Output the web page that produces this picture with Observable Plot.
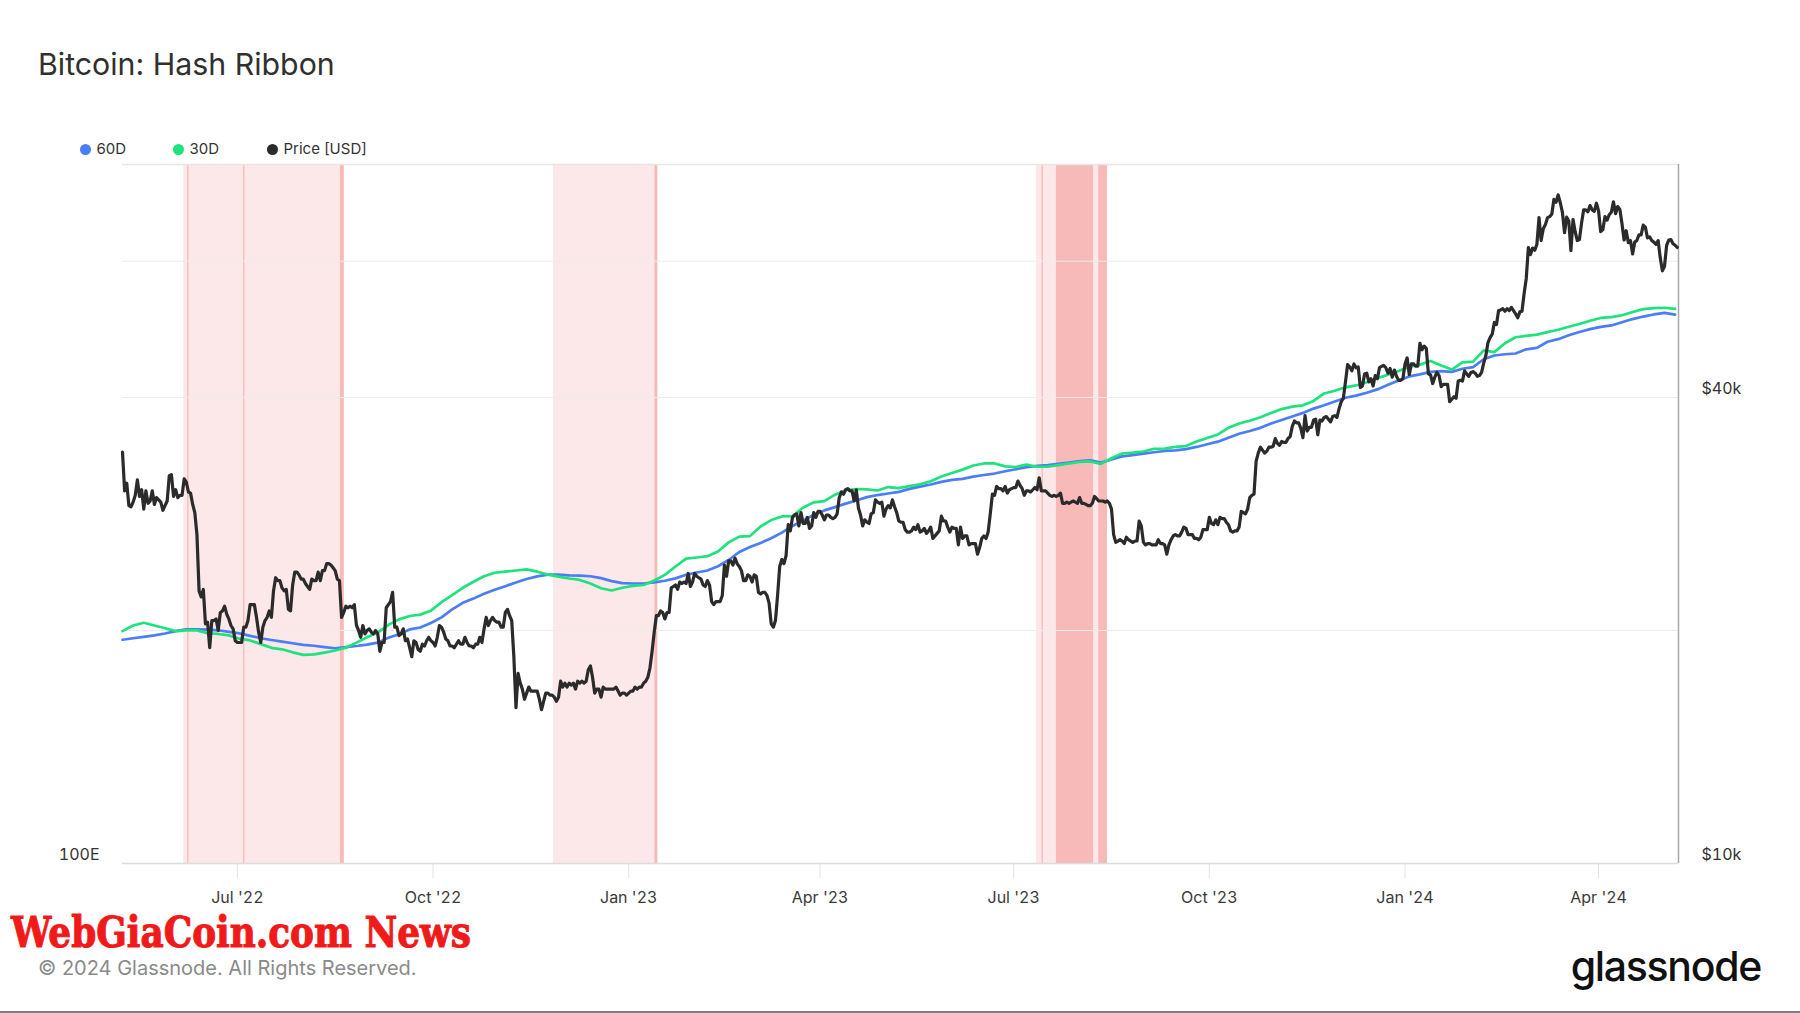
<!DOCTYPE html>
<html>
<head>
<meta charset="utf-8">
<script src="https://cdn.jsdelivr.net/npm/d3@7"></script>
<script src="https://cdn.jsdelivr.net/npm/@observablehq/plot@0.6"></script>
<style>
  body { margin: 0; background: #fff; }
  #page { position: relative; width: 1800px; height: 1013px; overflow: hidden; background: #fff; font-family: Inter, "Noto Sans", sans-serif; }
  #title { position: absolute; left: 38px; top: 46px; font-size: 30.3px; line-height: 36px; color: #303030; white-space: nowrap; }
  .leg { position: absolute; top: 140px; height: 18px; line-height: 18px; font-size: 15px; color: #333; white-space: nowrap; }
  .leg i { display: inline-block; width: 11px; height: 11px; border-radius: 50%; margin-right: 6px; vertical-align: -1px; }
  #chart { position: absolute; left: 0; top: 140px; }
  #copy { position: absolute; left: 38px; top: 954px; font-size: 20px; line-height: 28px; color: #8a8a8a; white-space: nowrap; }
  #logo { position: absolute; right: 39px; top: 941px; font-size: 41px; line-height: 50px; font-weight: 500; letter-spacing: -1.3px; color: #111; white-space: nowrap; }
  #wm { position: absolute; left: 0; top: 890px; overflow: visible; }
  #rule { position: absolute; left: 0; top: 1011px; width: 1800px; height: 2px; background: #808080; }
</style>
</head>
<body>
<div id="page">
  <div id="title">Bitcoin: Hash Ribbon</div>
  <div class="leg" style="left:79.5px"><i style="background:#4a7df6"></i>60D</div>
  <div class="leg" style="left:172.5px"><i style="background:#1ee37c"></i>30D</div>
  <div class="leg" style="left:266.5px"><i style="background:#2b2b2b"></i>Price [USD]</div>
  <div id="chart"></div>
  <svg id="wm" width="760" height="72"><text x="11" y="57" textLength="460" lengthAdjust="spacingAndGlyphs" font-family="DejaVu Serif" font-weight="bold" font-size="43" fill="#f01a1a" stroke="#f01a1a" stroke-width="1.1">WebGiaCoin.com News</text></svg>
  <div id="copy">© 2024 Glassnode. All Rights Reserved.</div>
  <div id="logo">glassnode</div>
  <div id="rule"></div>
</div>
<script>
// ---------- data ----------
const startDate = "2022-05-08";           // first daily observation
const xDomain = ["2022-05-08", "2024-05-08T14:00"];
const xTickDates = ["2022-07-01", "2022-10-01", "2023-01-01", "2023-04-01", "2023-07-01", "2023-10-01", "2024-01-01", "2024-04-01"];

// BTC price, daily, thousands of USD
const priceK = [
  // May 2022 (8-31)
  34.0,30.3,31.0,29.0,28.9,29.3,29.9,31.3,29.8,30.4,28.7,30.3,29.2,29.4,30.3,29.1,29.7,29.5,29.3,28.6,29.0,29.4,31.7,31.8,
  // Jun 2022
  29.8,30.4,29.7,29.9,29.9,31.4,31.1,30.2,30.1,29.1,28.4,26.6,22.5,22.1,22.6,20.4,20.5,19.0,20.6,20.6,20.7,20.0,21.1,21.2,21.5,21.0,20.7,20.3,20.1,19.4,
  // Jul 2022
  19.3,19.3,19.3,20.2,20.2,20.6,21.6,21.6,21.6,20.8,19.9,19.3,20.2,20.6,20.8,21.2,20.8,22.5,23.4,23.2,23.2,22.7,22.5,22.6,21.3,21.2,22.9,23.8,23.8,23.6,23.3,
  // Aug 2022
  23.3,23.0,22.8,22.6,23.3,23.2,23.2,23.8,23.2,23.9,23.9,24.4,24.4,24.3,24.1,23.9,23.3,23.2,20.8,21.1,21.5,21.4,21.5,21.4,21.6,20.3,20.0,19.6,20.3,19.8,20.0,
  // Sep 2022
  20.1,19.9,19.8,20.0,19.8,18.8,19.3,19.3,21.4,21.6,21.8,22.4,20.2,20.2,19.7,19.8,20.1,19.4,19.5,19.0,18.5,19.4,19.3,18.9,18.8,19.2,19.1,19.4,19.6,19.4,
  // Oct 2022
  19.3,19.1,19.6,20.3,20.2,19.9,19.5,19.4,19.1,19.1,19.0,19.2,19.4,19.2,19.2,19.6,19.3,19.1,19.1,19.0,19.2,19.2,19.6,19.3,20.1,20.8,20.3,20.6,20.8,20.6,20.5,
  // Nov 2022
  20.5,20.2,20.2,21.1,21.3,20.9,20.6,18.5,15.9,17.6,17.1,16.8,16.3,16.6,16.9,16.7,16.7,16.7,16.7,16.3,15.8,16.2,16.6,16.6,16.5,16.5,16.4,16.2,16.4,17.2,
  // Dec 2022
  16.9,17.1,16.9,17.1,17.0,17.1,16.8,17.2,17.1,17.2,17.1,17.2,17.8,18.0,17.4,16.6,16.8,16.8,16.4,16.9,16.8,16.8,16.8,16.8,16.8,16.9,16.7,16.5,16.6,16.6,16.5,
  // Jan 2023
  16.6,16.7,16.7,16.9,16.8,16.9,16.9,17.1,17.2,17.4,17.9,18.8,19.9,20.9,20.9,21.2,21.1,20.7,21.1,21.1,22.7,22.8,22.9,22.6,23.1,23.0,23.1,23.0,23.7,22.8,23.1,
  // Feb 2023
  23.7,23.5,23.4,23.3,22.9,22.8,23.2,22.9,21.8,21.6,21.8,21.8,21.8,22.2,24.3,23.5,24.6,24.6,24.3,24.8,24.4,24.2,23.9,23.2,23.2,23.6,23.5,23.1,
  // Mar 2023
  23.6,23.5,22.4,22.3,22.4,22.4,22.2,21.7,20.4,20.2,20.6,22.2,24.2,24.7,24.4,25.0,27.4,26.9,28.0,28.2,28.3,27.3,28.4,27.5,27.5,28.0,27.1,27.3,28.4,28.0,28.5,
  // Apr 2023
  28.5,28.2,27.8,28.2,28.2,28.0,27.9,28.0,28.3,29.7,30.2,30.0,30.4,30.5,30.3,30.3,29.4,30.4,28.8,28.2,27.3,27.8,27.6,27.5,28.3,28.4,29.5,29.3,29.2,29.3,
  // May 2023
  28.1,28.7,29.0,28.8,29.5,28.9,28.4,27.7,27.6,27.6,27.0,26.8,26.8,26.9,27.2,27.0,27.4,26.8,26.9,27.1,26.7,26.9,27.2,26.3,26.5,26.7,26.9,28.1,27.7,27.7,27.2,
  // Jun 2023
  26.8,27.2,27.1,27.1,25.8,27.2,26.3,26.5,26.5,25.8,25.9,25.9,25.9,25.1,25.6,26.3,26.5,26.3,26.8,28.3,30.0,29.9,30.7,30.5,30.5,30.3,30.7,30.1,30.4,30.5,
  // Jul 2023
  30.6,30.6,31.2,30.8,30.5,29.9,30.3,30.3,30.2,30.4,30.6,30.4,31.5,30.3,30.3,30.3,30.1,29.9,29.8,29.9,29.8,29.9,30.1,29.2,29.2,29.3,29.2,29.3,29.4,29.3,29.2,
  // Aug 2023
  29.7,29.2,29.2,29.1,29.0,29.0,29.2,29.8,29.6,29.4,29.4,29.4,29.3,29.4,29.2,28.7,26.6,26.0,26.1,26.2,26.1,25.9,26.4,26.2,26.1,26.0,26.1,26.1,27.7,27.3,26.0,
  // Sep 2023
  25.8,25.9,25.9,25.8,25.8,25.8,26.2,25.9,25.9,25.8,25.1,25.8,26.2,26.5,26.6,26.5,26.5,26.8,27.2,27.1,26.6,26.6,26.6,26.3,26.3,26.2,26.4,27.0,27.0,27.0,
  // Oct 2023
  28.0,27.5,27.4,27.8,27.4,28.0,27.9,27.9,27.6,27.4,26.9,26.8,26.9,26.9,27.2,28.5,28.4,28.3,28.7,29.7,29.9,30.0,33.1,33.9,34.5,34.2,33.9,34.1,34.5,34.5,34.6,
  // Nov 2023
  35.4,34.9,34.7,35.1,35.0,35.0,35.4,35.6,36.7,37.3,37.1,37.1,36.5,35.5,37.9,36.2,36.6,36.6,37.4,37.5,35.8,37.4,37.3,37.7,37.8,37.5,37.2,37.8,37.9,37.7,
  // Dec 2023
  38.7,39.5,39.9,41.9,44.1,43.8,43.3,44.2,43.7,43.8,41.2,41.4,42.9,43.0,41.9,42.3,41.4,42.7,42.3,43.7,43.9,44.0,43.7,43.0,43.6,42.5,43.4,42.6,42.1,42.1,42.3,
  // Jan 2024
  44.2,45.0,42.8,44.2,44.2,43.9,43.9,47.0,46.1,46.6,46.3,42.9,42.8,41.7,42.5,43.1,42.7,41.3,41.6,41.6,41.6,39.5,39.8,40.1,39.9,42.0,42.1,42.0,43.3,42.9,42.6,
  // Feb 2024
  43.1,43.2,43.0,42.6,42.7,43.1,44.3,45.3,47.1,47.8,48.3,50.0,49.7,51.8,51.9,52.1,51.7,52.1,51.8,52.3,51.8,51.3,50.7,51.6,51.7,54.5,57.0,62.5,61.2,
  // Mar 2024
  62.4,62.0,63.1,68.3,63.8,66.1,66.9,68.3,68.5,69.0,72.1,71.5,73.1,71.4,69.4,65.3,68.4,67.6,61.9,67.9,65.5,63.8,64.0,67.2,69.9,69.9,69.5,70.8,69.9,69.6,71.3,
  // Apr 2024
  69.7,65.5,65.9,68.5,67.8,68.9,69.4,71.6,69.1,70.6,70.0,67.1,63.9,65.7,63.4,63.8,61.3,63.5,63.8,64.9,64.9,66.8,66.4,64.3,64.5,63.8,63.5,63.1,63.8,60.6,
  // May 2024 (1-8)
  58.3,59.1,62.9,63.9,64.0,63.2,62.9,62.5
];

// Hash rate moving averages, EH/s, one value every 5 days from startDate
const hashStepDays = 5;
const hash30 = [
  215,219,221,219,217,215,215.5,215.5,213.5,213,212,209.7,208.5,206,203.5,202.5,200.5,198.8,199.2,200.3,
  201.7,203.6,207,210.7,214,219.5,223.5,226,227,230,236.5,242,248,253,257.6,260.6,261.6,262.5,263.5,261.5,
  259,257.3,255.7,254.5,251.5,247.6,245.8,248,249.5,250.3,254,258.8,266,273,274,275.2,279.5,288,293.5,294,
  303.5,310,313.7,314,323,328.6,330,337,342,343.4,343,341.7,345.6,344.4,346.7,348.6,352.2,357.8,362,366,
  371,373.5,373.5,370,369.2,372,369.5,369.5,371.5,373.5,375.5,376,373,380,386,387,388.5,392,392.4,394.4,
  395.5,401.5,406.2,411,420,426,430,435,441.2,446.8,450.4,452.4,459,470.4,474.5,480,483,488,494.7,500.2,
  506.6,513.8,517.2,523.3,515.7,509,521,522.3,542,539,555,566,568.6,571,575.8,580.2,586,591.2,597.8,603.2,
  605,608.6,615.2,621,623,623.8,621.6
];
const hash60 = [
  209,210,211,212,213.3,215,216.2,216.3,216,215.6,214.5,213.4,211.7,210,208.8,207.7,206.6,205.5,204.9,204,
  203.2,204,204.7,205.6,207,210.3,212.8,216.2,217.6,220.8,225,231,236,239.3,243.2,246.4,249.3,252.4,255.3,257.5,
  259,259,258.3,258.2,257.6,256,253.5,251.8,251.5,251.5,252.4,253.8,255.8,258.8,260.8,262.5,266.2,271.8,279,283.6,
  287.5,291.9,297.4,304,309.3,315.5,320,323.5,327.2,330.6,334.3,336.6,338.3,340.1,343.5,346,348.5,351.5,353.8,355.1,
  357.6,359.6,361.3,364,366.4,369,370.5,371.5,373,374.5,376.5,377.5,374.5,378.4,382.3,383.9,385.8,387.6,389.2,390,
  391.5,394.4,397.9,401.3,406.5,412,415.7,420,426,431,436,441.2,447.5,452.5,458,463.7,467,471.4,476.7,484,
  491,497.5,501,505,506.3,505,510.3,513,526.5,533,535.2,536.6,544,546.6,557.8,562.5,569.9,575.8,581.4,585.8,
  588.5,594.8,601,606,610.2,613.4,610
];

// Hash ribbon capitulation periods (light), stronger signal periods (dark), thin signal lines
const lightBands = [
  ["2022-06-05T19:00", "2022-08-18T10:00"],
  ["2022-11-26T14:00", "2023-01-13T07:00"],
  ["2023-07-11T17:00", "2023-08-14T02:00"]
];
const darkBands = [
  ["2022-08-18T10:00", "2022-08-20T07:00"],
  ["2023-01-13T07:00", "2023-01-14T17:00"],
  ["2023-07-21T02:00", "2023-08-07T14:00"],
  ["2023-08-10T00:00", "2023-08-14T02:00"]
];
const signalLines = ["2022-06-07T17:00", "2022-07-04T00:00", "2023-07-14T10:00"];

const priceGrid = [20000, 40000, 60000];
const priceLabels = [10000, 40000];
const hashLabel = 100;   // EH/s at the bottom of the left axis

// ---------- build ----------
const parse = s => new Date(s.endsWith("Z") ? s : (s.length === 10 ? s + "T00:00Z" : s + "Z"));
const start = parse(startDate);
const xd = xDomain.map(parse);
// hash axis: log 100E..1000E mapped onto the price frame $10k..$80k
const hashToPrice = h => 10000 * Math.pow(8, Math.log10(h / 100));

const priceData = priceK.map((v, i) => ({date: d3.utcDay.offset(start, i), value: v * 1000}));
const h30Data = hash30.map((v, i) => ({date: d3.utcDay.offset(start, i * hashStepDays), value: hashToPrice(v)}));
const h60Data = hash60.map((v, i) => ({date: d3.utcDay.offset(start, i * hashStepDays), value: hashToPrice(v)}));
const light = lightBands.map(([a, b]) => ({x1: parse(a), x2: parse(b)}));
const dark = darkBands.map(([a, b]) => ({x1: parse(a), x2: parse(b)}));
const sig = signalLines.map(parse);

const chart = Plot.plot({
  width: 1800,
  height: 783,
  marginTop: 24,
  marginBottom: 60,
  marginLeft: 122,
  marginRight: 122,
  x: {type: "utc", domain: xd, axis: null},
  y: {type: "log", domain: [10000, 80000], axis: null},
  style: {fontFamily: "Inter, 'Noto Sans', sans-serif", fontSize: "16px", color: "#333", background: "transparent", overflow: "visible"},
  marks: [
    Plot.rect(light, {x1: "x1", x2: "x2", fill: "#fde8e9"}),
    Plot.rect(dark, {x1: "x1", x2: "x2", fill: "#f8b9b9"}),
    Plot.ruleX(sig, {stroke: "#f5bcbc", strokeWidth: 1.4}),
    Plot.gridY(priceGrid, {stroke: "#ececec", strokeOpacity: 1, strokeWidth: 1}),
    Plot.ruleY([80000], {stroke: "#e6e6e6", strokeWidth: 1.5}),
    Plot.ruleY([10000], {stroke: "#dcdcdc", strokeWidth: 1.5}),
    Plot.ruleX([xd[1]], {stroke: "#a9a9a9", strokeWidth: 1.5}),
    Plot.axisX(xTickDates.map(parse), {
      anchor: "bottom", label: null, tickSize: 15, tickPadding: 13, stroke: "#e2e2e2", fill: "#3a3a3a",
      fontSize: 16, tickFormat: d3.utcFormat("%b '%y")
    }),
    Plot.axisY(priceLabels, {
      anchor: "right", label: null, tickSize: 0, tickPadding: 23, dy: -9, fill: "#333", fontSize: 16,
      tickFormat: d => `$${d / 1000}k`
    }),
    Plot.axisY([hashToPrice(hashLabel)], {
      anchor: "left", label: null, tickSize: 0, tickPadding: 23, dy: -9, fill: "#333", fontSize: 16,
      tickFormat: () => `${hashLabel}E`
    }),
    Plot.line(h60Data, {x: "date", y: "value", stroke: "#4a7df6", strokeWidth: 2.7, strokeLinejoin: "round"}),
    Plot.line(h30Data, {x: "date", y: "value", stroke: "#1ee37c", strokeWidth: 2.7, strokeLinejoin: "round"}),
    Plot.line(priceData, {x: "date", y: "value", stroke: "#2b2b2b", strokeWidth: 3.2, strokeLinejoin: "round"})
  ]
});
document.getElementById("chart").appendChild(chart);
</script>
</body>
</html>
